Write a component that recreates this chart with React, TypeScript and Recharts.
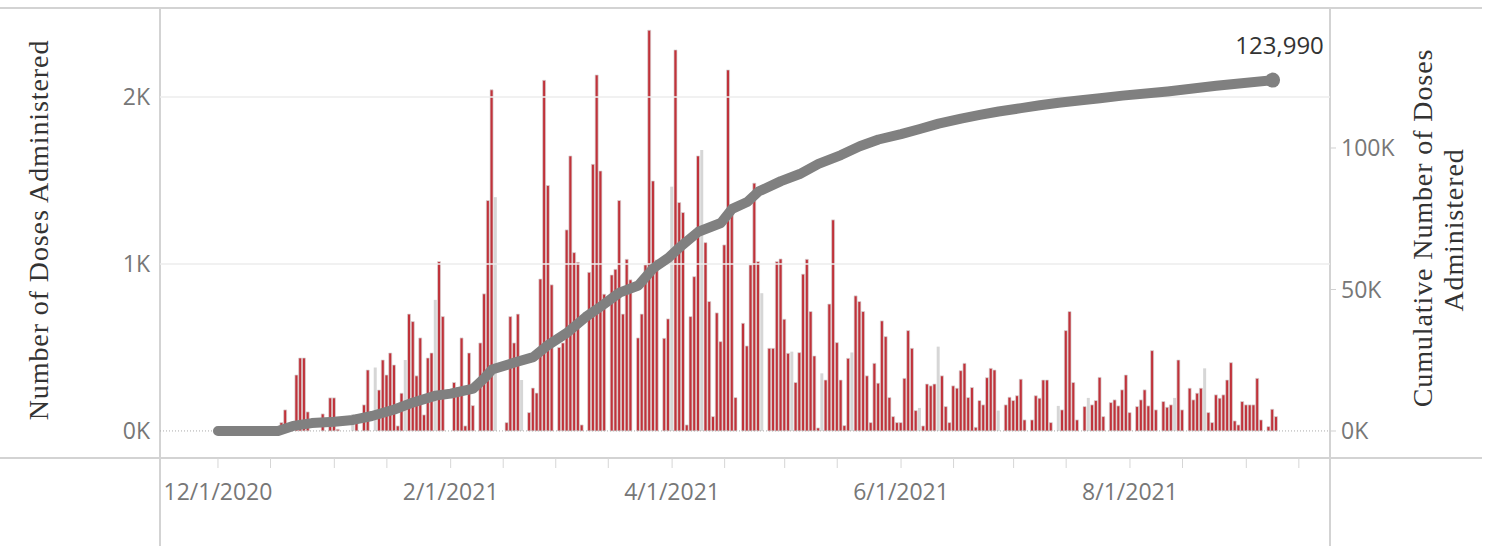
import React from 'react';
import {
  ComposedChart,
  Bar,
  Line,
  XAxis,
  YAxis,
  ReferenceLine,
} from 'recharts';

// daily doses, day 0 = 12/1/2020
const DAILY_DOSES = [
  0, 0, 0, 0, 0, 0, 0, 0, 0, 0,
  0, 0, 0, 0, 0, 0, 0, 50, 126, 20,
  0, 335, 437, 437, 114, 0, 0, 0, 102, 0,
  198, 198, 10, 0, 0, 0, 0, 96, 0, 156,
  365, 0, 0, 245, 425, 335, 467, 395, 30, 226,
  0, 700, 655, 330, 557, 96, 437, 467, 0, 1014,
  685, 0, 0, 290, 260, 557, 30, 467, 152, 0,
  527, 821, 1380, 2043, 0, 0, 0, 50, 685, 527,
  700, 0, 0, 110, 257, 227, 910, 2100, 1470, 875,
  0, 500, 527, 1204, 1647, 1068, 1010, 36, 0, 950,
  1597, 2132, 1557, 819, 0, 934, 968, 1380, 700, 1028,
  905, 0, 557, 700, 994, 2400, 1497, 1024, 0, 555,
  671, 0, 2282, 1368, 1308, 36, 685, 924, 1647, 0,
  1128, 775, 86, 707, 535, 1114, 2162, 1304, 200, 0,
  645, 509, 994, 1484, 1014, 0, 0, 495, 495, 1014,
  1030, 669, 465, 0, 290, 469, 939, 1028, 715, 449,
  18, 0, 305, 760, 1264, 529, 305, 32, 435, 0,
  809, 775, 715, 330, 50, 405, 286, 659, 565, 200,
  86, 50, 50, 315, 601, 495, 122, 0, 30, 281,
  270, 281, 0, 330, 146, 50, 270, 256, 361, 405,
  200, 260, 22, 182, 156, 319, 375, 365, 0, 0,
  156, 202, 182, 211, 310, 66, 0, 66, 211, 196,
  305, 305, 50, 0, 0, 126, 601, 715, 290, 66,
  0, 146, 0, 156, 182, 321, 86, 0, 170, 186,
  150, 246, 335, 110, 0, 146, 186, 246, 150, 481,
  126, 0, 176, 142, 156, 0, 425, 126, 0, 256,
  186, 226, 256, 0, 110, 50, 216, 196, 216, 305,
  409, 60, 36, 176, 156, 156, 156, 315, 66, 0,
  26, 130, 86,
];

// light grey bars (days with no red bar)
const GRAY_DAYS = [36, 42, 50, 58, 74, 81, 121, 129, 145, 153, 161, 169, 187, 192, 208, 224, 232, 255, 263];
const GRAY_VALUES = [100, 380, 425, 785, 1400, 305, 1463, 1683, 825, 475, 345, 470, 138, 505, 122, 150, 198, 198, 375];

// cumulative doses
const CUM_DAYS = [
  0, 16, 20, 25, 31, 36, 41, 47, 52, 58, 62, 68, 71, 73, 79, 84, 88, 93, 98, 102,
  107, 112, 116, 120, 123, 128, 134, 137, 141, 144, 150, 155, 160, 166, 171, 176,
  182, 187, 192, 198, 203, 208, 214, 219, 224, 230, 235, 241, 253, 266, 281,
];
const CUM_VALUES = [
  0, 0, 1800, 2800, 3300, 3900, 5300, 7600, 10100, 12500, 13200, 15000, 18700, 21700,
  24200, 26100, 30400, 34700, 40300, 44000, 48900, 51400, 57500, 61200, 64900, 70400,
  73500, 78500, 80900, 84600, 88300, 90800, 94400, 97500, 100600, 103000, 104900,
  106700, 108600, 110400, 111700, 112900, 114100, 115100, 116000, 116900, 117600,
  118500, 120000, 122000, 123990,
];

const X_TICK_DAYS = [0, 14, 31, 45, 62, 76, 90, 104, 121, 135, 151, 165, 182, 196, 212, 226, 243, 257, 274, 288];
const X_LABEL_DAYS = [0, 62, 121, 182, 243];
const X_LABELS = ['12/1/2020', '2/1/2021', '4/1/2021', '6/1/2021', '8/1/2021'];

const LEFT_TICKS = [0, 1000, 2000];
const RIGHT_TICKS = [0, 50000, 100000];

const X_DOMAIN: [number, number] = [-15.45, 296.3];
const LAST_DAY = CUM_DAYS[CUM_DAYS.length - 1];

const data = DAILY_DOSES.map((doses, day) => {
  const gi = GRAY_DAYS.indexOf(day);
  const ci = CUM_DAYS.indexOf(day);
  return {
    day,
    doses,
    gray: gi >= 0 ? GRAY_VALUES[gi] : null,
    cum: ci >= 0 ? CUM_VALUES[ci] : null,
  };
});

const tickFont = { fill: '#777', fontSize: 23, fontFamily: 'Open Sans, sans-serif' };
const titleFont = 'Liberation Serif, serif';

function EndDot(props: any) {
  const { cx, cy, index, payload } = props;
  if (payload?.day !== LAST_DAY || cy == null) return <g key={`dot-${index}`} />;
  return (
    <g key={`dot-${index}`}>
      <circle cx={cx} cy={cy} r={7.5} fill="#808080" />
      <text
        x={cx + 7}
        y={cy - 26}
        textAnchor="middle"
        fontSize={24}
        fontFamily="Open Sans, sans-serif"
        fill="#333"
      >
        {payload.cum.toLocaleString('en-US')}
      </text>
    </g>
  );
}

export default function App() {
  return (
    <div style={{ position: 'absolute', left: 0, top: 0, width: 1493, height: 546, background: '#fff' }}>
      <svg width={1493} height={546} style={{ position: 'absolute', left: 0, top: 0 }}>
        <line x1={0} y1={8} x2={1482} y2={8} stroke="#d3d3d3" strokeWidth={2} />
        <line x1={0} y1={458} x2={1482} y2={458} stroke="#d3d3d3" strokeWidth={2} />
        <line x1={160} y1={8} x2={160} y2={546} stroke="#d3d3d3" strokeWidth={2} />
        <line x1={1330} y1={8} x2={1330} y2={546} stroke="#d3d3d3" strokeWidth={2} />
        <text
          transform="translate(48,230) rotate(-90)"
          textAnchor="middle"
          fontSize={28}
          letterSpacing={0.9}
          fontFamily={titleFont}
          fill="#333"
        >
          Number of Doses Administered
        </text>
        <text
          transform="translate(1432,228) rotate(-90)"
          textAnchor="middle"
          fontSize={28}
          letterSpacing={0.9}
          fontFamily={titleFont}
          fill="#333"
        >
          Cumulative Number of Doses
        </text>
        <text
          transform="translate(1463,230) rotate(-90)"
          textAnchor="middle"
          fontSize={28}
          letterSpacing={0.9}
          fontFamily={titleFont}
          fill="#333"
        >
          Administered
        </text>
      </svg>
      <div style={{ position: 'absolute', left: 0, top: 0 }}>
        <ComposedChart
          width={1493}
          height={546}
          data={data}
          margin={{ top: 8, right: 103, bottom: 28, left: 100 }}
        >
          <XAxis
            xAxisId="main"
            type="number"
            dataKey="day"
            domain={X_DOMAIN}
            allowDataOverflow
            ticks={X_TICK_DAYS}
            interval={0}
            tickFormatter={(d: number) => {
              const i = X_LABEL_DAYS.indexOf(d);
              return i >= 0 ? X_LABELS[i] : '';
            }}
            axisLine={false}
            tickLine={{ stroke: '#d6d6d6' }}
            tickSize={10}
            tickMargin={16}
            height={60}
            tick={tickFont}
          />
          <XAxis
            xAxisId="g"
            type="number"
            dataKey="day"
            domain={X_DOMAIN}
            allowDataOverflow
            height={0}
            hide
          />
          <YAxis
            yAxisId="left"
            domain={[-162, 2533]}
            allowDataOverflow
            ticks={LEFT_TICKS}
            tickFormatter={(v: number) => `${v / 1000}K`}
            axisLine={false}
            tickLine={false}
            tickSize={0}
            tickMargin={10}
            width={60}
            tick={tickFont}
          />
          <YAxis
            yAxisId="right"
            orientation="right"
            domain={[-9541, 149470]}
            allowDataOverflow
            ticks={RIGHT_TICKS}
            tickFormatter={(v: number) => `${v / 1000}K`}
            axisLine={false}
            tickLine={{ stroke: '#d0d0d0' }}
            tickSize={6}
            tickMargin={5}
            width={60}
            tick={tickFont}
          />
          <ReferenceLine yAxisId="left" xAxisId="main" y={1000} stroke="#ececec" strokeWidth={1.5} />
          <ReferenceLine yAxisId="left" xAxisId="main" y={2000} stroke="#ececec" strokeWidth={1.5} />
          <ReferenceLine yAxisId="left" xAxisId="main" y={0} stroke="#aaa" strokeDasharray="1 2" />
          <Bar
            xAxisId="g"
            yAxisId="left"
            dataKey="gray"
            fill="#d6d6d6"
            barSize={3}
            isAnimationActive={false}
          />
          <Bar
            xAxisId="main"
            yAxisId="left"
            dataKey="doses"
            fill="#c0323a"
            stroke="#d8d8d8"
            strokeWidth={0.7}
            barSize={3}
            isAnimationActive={false}
          />
          <Line
            xAxisId="main"
            yAxisId="right"
            type="linear"
            dataKey="cum"
            stroke="#808080"
            strokeWidth={10}
            strokeLinecap="round"
            strokeLinejoin="round"
            connectNulls
            dot={EndDot}
            activeDot={false}
            isAnimationActive={false}
          />
        </ComposedChart>
      </div>
    </div>
  );
}
